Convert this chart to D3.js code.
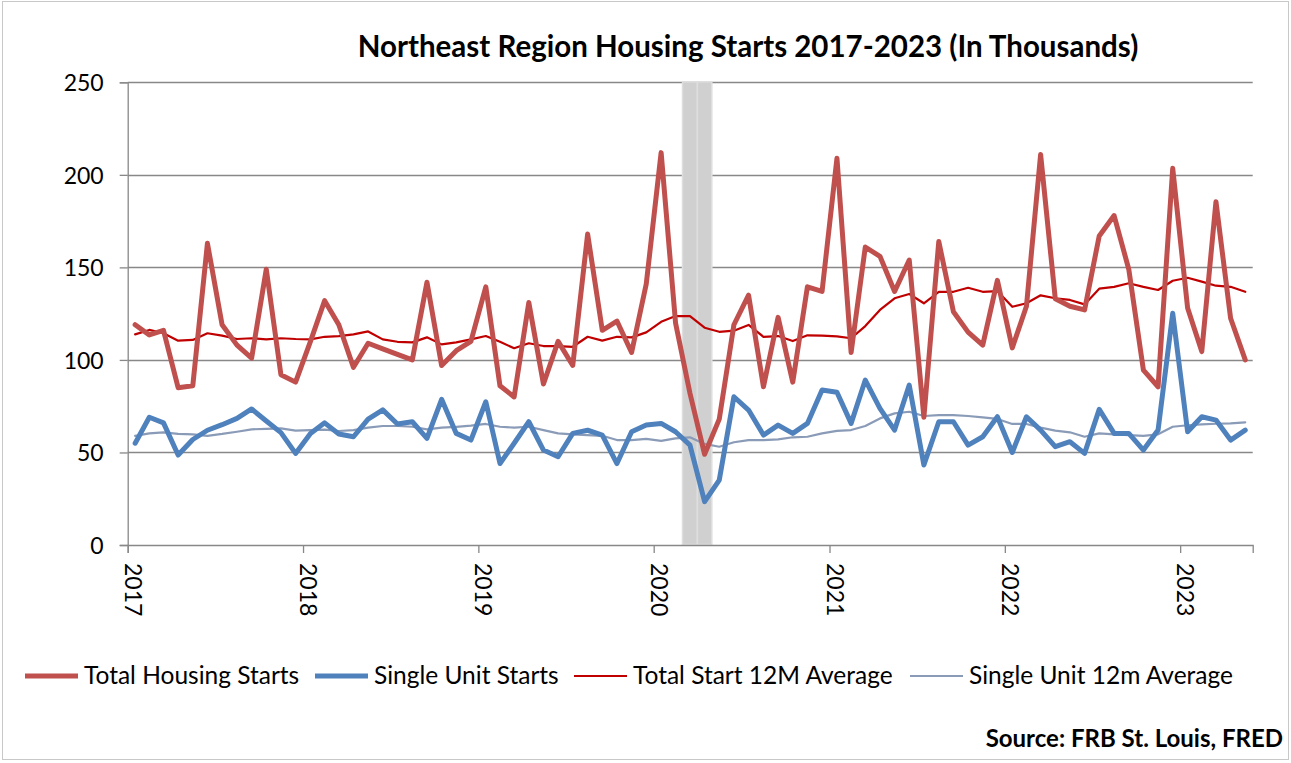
<!DOCTYPE html>
<meta charset="utf-8">
<style>
body { margin: 0; background: #fff; }
.title { font: bold 29.5px Lato, sans-serif; }
.tick_text { font: 23px Lato, sans-serif; fill: #000; }
.legend_text { font: 24.5px Lato, sans-serif; fill: #000; }
.source { font: bold 24px Lato, sans-serif; }
</style>
<svg width="1291" height="763"></svg>
<script src="https://d3js.org/d3.v7.min.js"></script>
<script>

// monthly values, Jan 2017 - May 2023 (thousands)
var totalStarts = [119,113.5,116,85,86,163,119,108,101,149,92,88,
  110,132,119,96,109,106,103,100,142,97,105,110,
  139.5,86,80,131,87,110,97,168,116,121,104,141,
  212,120,82,49,68,119,135,85.5,123,88,139.5,137,
  209,104,161,156,137,154,69,164,126,115,108,143,
  106.5,129,211,133,129,127,167,178,149,94.5,85.5,203.5,
  128,104.5,185.5,122.5,100];

var singleStarts = [55,69,66,48.6,57,62,65,68.4,73.5,67,60.7,49.5,
  60.3,66,60,58.5,68,73,65.4,66.6,57.6,78.7,60.3,56.7,
  77.4,44,55,66.6,51.3,47.7,60.3,62,59.4,44,61.2,64.8,
  65.7,61.2,54,23.4,35.1,80.1,72.9,59.4,64.8,60.3,65.7,83.7,
  82.5,65.7,89.1,73.8,62.1,86.4,43.2,66.6,66.6,54,58.5,69.3,
  50,69.3,62.1,53.1,55.8,49.5,73.3,60.3,60.3,51.3,62.1,125.2,
  61.2,69.3,67.5,56.7,62.1];

var totalAvg = [113.8,116.2,114.4,110.4,110.8,114.4,113.1,111.3,111.7,111.1,111.7,111.3,
  111.1,112.5,112.9,113.8,115.4,111.1,109.8,109.5,112.2,108.4,109.5,111.1,
  112.9,109.8,106.3,109,107.5,107.5,107.1,112.5,110.4,112.5,112.2,114.9,
  120.6,123.7,123.7,117.4,115.2,115.8,118.9,112.5,112.9,110.2,113.3,113.1,
  112.7,111.7,118.3,127,133.3,135.6,130.6,136.8,136.8,139,136.8,137.2,
  128.7,130.6,134.9,133.3,132.4,130,138.5,139.5,141.4,139.5,137.8,142.8,
  144.4,142.3,140.1,139.5,136.8];

var singleAvg = [59,60.3,60.9,60,59.8,59,60,61.2,62.5,62.7,63,61.8,
  62.1,62.3,61.6,62.1,63.4,64.3,64.3,63.9,62.5,63.4,63.8,64.5,
  65.4,63.9,63.4,63.9,62.1,60.3,59.8,59.4,59,56.7,56.7,57.3,
  56.3,57.6,58.2,54.6,53.1,55.5,56.7,56.7,57.1,58.2,58.5,60.3,
  61.7,62.1,64.3,68.4,71.1,72,69.7,70.2,70.2,69.7,69,68.1,
  65.4,65.4,63.4,61.8,60.9,58.5,60.3,59.8,59.4,59,59.8,63.9,
  64.7,65.2,65.5,65.7,66.3];

var recessionMonths = ["2020-03", "2020-04"];
var yTicks = [0, 50, 100, 150, 200, 250];
var yearTicks = [2017, 2018, 2019, 2020, 2021, 2022, 2023];

var seriesNames = ["Total Housing Starts", "Single Unit Starts", "Total Start 12M Average", "Single Unit 12m Average"];

var svg = d3.select("svg"),
    plotLeft = 127.7, plotRight = 1252.7, plotTop = 82.3, plotBottom = 545;

var start = new Date(Date.UTC(2017, 0, 1));
var months = d3.utcMonth.range(start, d3.utcMonth.offset(start, totalStarts.length));

var x = d3.scaleUtc()
    .domain([start, d3.utcMonth.offset(start, months.length)])
    .range([plotLeft, plotRight]);

var y = d3.scaleLinear()
    .domain([0, 250])
    .range([plotBottom, plotTop]);

function xMid(m) { return (x(m) + x(d3.utcMonth.offset(m, 1))) / 2; }

// frame
svg.append("rect")
    .attr("x", 2.5).attr("y", 1.5)
    .attr("width", 1286).attr("height", 758)
    .attr("fill", "none")
    .attr("stroke", "#c8c8c8");

// gridlines
svg.append("g")
  .selectAll("line")
  .data(yTicks.slice(1))
  .enter().append("line")
    .attr("x1", plotLeft).attr("x2", plotRight)
    .attr("y1", function(d) { return Math.round(y(d)) + 0.5; })
    .attr("y2", function(d) { return Math.round(y(d)) + 0.5; })
    .attr("stroke", "#888")
    .attr("stroke-width", 1.3);

// recession bars
var fmt = d3.utcFormat("%Y-%m");
svg.append("g")
  .selectAll("rect")
  .data(months.filter(function(m) { return recessionMonths.indexOf(fmt(m)) >= 0; }))
  .enter().append("rect")
    .attr("x", function(m) { return x(m); })
    .attr("width", function(m) { return x(d3.utcMonth.offset(m, 1)) - x(m); })
    .attr("y", plotTop - 0.5)
    .attr("height", plotBottom - plotTop)
    .attr("fill", "#d0d0d0")
    .attr("stroke", "#dedede")
    .attr("stroke-width", 1.5);

// y axis
var yAxis = svg.append("g")
    .attr("transform", "translate(" + plotLeft + ",0)")
    .call(d3.axisLeft(y).tickValues(yTicks).tickSize(8).tickPadding(16));
yAxis.select(".domain").attr("stroke", "#888").attr("stroke-width", 1.3);
yAxis.selectAll(".tick line").attr("stroke", "#888").attr("stroke-width", 1.3);
yAxis.selectAll(".tick text").attr("class", "tick_text").attr("dy", "0.36em");

// x axis
var xAxis = svg.append("g")
    .attr("transform", "translate(0," + plotBottom + ")")
    .call(d3.axisBottom(x)
      .tickValues(yearTicks.map(function(yr) { return new Date(Date.UTC(yr, 0, 1)); }))
      .tickSize(8)
      .tickFormat(d3.utcFormat("%Y")));
xAxis.select(".domain").attr("stroke", "#888").attr("stroke-width", 1.3);
xAxis.selectAll(".tick line").attr("stroke", "#888").attr("stroke-width", 1.3);
xAxis.selectAll(".tick text")
    .attr("class", "tick_text")
    .attr("transform", "translate(0,18) rotate(90)")
    .attr("x", 0).attr("y", 3.5).attr("dy", null)
    .attr("text-anchor", "start");

// lines
var styles = [
  {data: singleAvg, color: "#8a9bb7", width: 2.2},
  {data: totalAvg, color: "#c00000", width: 2.2},
  {data: totalStarts, color: "#c0504d", width: 5},
  {data: singleStarts, color: "#4f81bd", width: 5}
];

var line = d3.line()
    .x(function(d, i) { return xMid(months[i]); })
    .y(function(d) { return y(d); });

styles.forEach(function(s) {
  svg.append("path")
      .datum(s.data)
      .attr("fill", "none")
      .attr("stroke", s.color)
      .attr("stroke-width", s.width)
      .attr("stroke-linejoin", "round")
      .attr("stroke-linecap", "round")
      .attr("d", line);
});

// title
svg.append("text")
    .attr("class", "title")
    .attr("x", 748).attr("y", 57)
    .attr("text-anchor", "middle")
    .text("Northeast Region Housing Starts 2017-2023 (In Thousands)");

// legend
var legendX = [25, 315, 574, 910];
var legendStyle = [styles[2], styles[3], styles[1], styles[0]];
seriesNames.forEach(function(name, i) {
  svg.append("line")
      .attr("x1", legendX[i]).attr("x2", legendX[i] + 53)
      .attr("y1", 676).attr("y2", 676)
      .attr("stroke", legendStyle[i].color)
      .attr("stroke-width", legendStyle[i].width);
  svg.append("text")
      .attr("class", "legend_text")
      .attr("x", legendX[i] + 59).attr("y", 684)
      .text(name);
});

svg.append("text")
    .attr("class", "source")
    .attr("x", 1283).attr("y", 747)
    .attr("text-anchor", "end")
    .text("Source: FRB St. Louis, FRED");
</script>
